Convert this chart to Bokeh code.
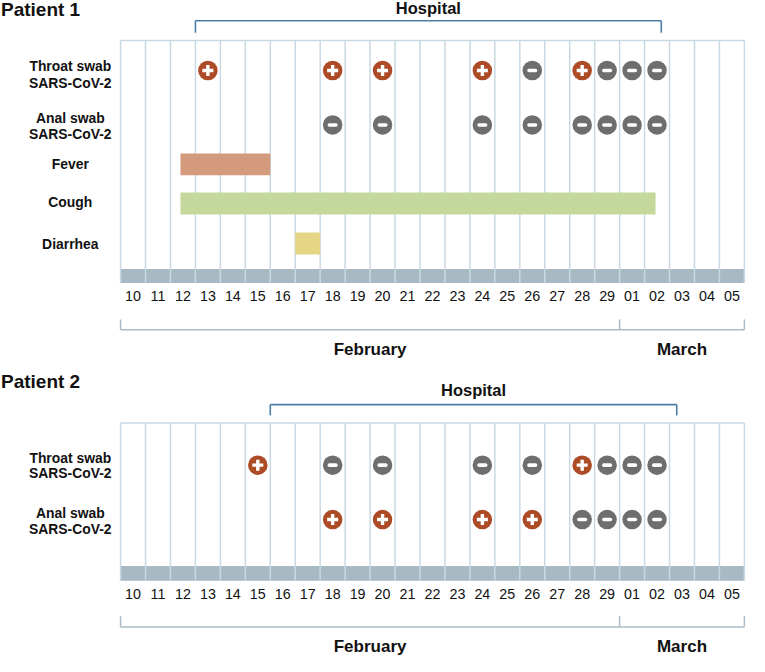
from bokeh.plotting import figure
from bokeh.models import Range1d
from bokeh.core.properties import value
from bokeh.embed import file_html
from bokeh.resources import INLINE

# ---------------- data ----------------
days = ["10", "11", "12", "13", "14", "15", "16", "17", "18", "19",
        "20", "21", "22", "23", "24", "25", "26", "27", "28", "29",
        "01", "02", "03", "04", "05"]
months = ["February", "March"]
month_first_day = ["10", "01"]

p1_throat_days = ["13", "18", "20", "24", "26", "28", "29", "01", "02"]
p1_throat_result = ["+", "+", "+", "+", "-", "+", "-", "-", "-"]
p1_anal_days = ["18", "20", "24", "26", "28", "29", "01", "02"]
p1_anal_result = ["-", "-", "-", "-", "-", "-", "-", "-"]

p2_throat_days = ["15", "18", "20", "24", "26", "28", "29", "01", "02"]
p2_throat_result = ["+", "-", "-", "-", "-", "+", "-", "-", "-"]
p2_anal_days = ["18", "20", "24", "26", "28", "29", "01", "02"]
p2_anal_result = ["+", "+", "+", "+", "-", "-", "-", "-"]

# symptoms of patient 1, in days after 10 February (start, end)
symptoms = ["Fever", "Cough", "Diarrhea"]
symptom_start = [2.4, 2.4, 7.0]
symptom_end = [6.0, 21.44, 8.0]
symptom_colors = ["#d49a7e", "#c5d89c", "#e5d585"]

# hospital stay, in days after 10 February (admission, discharge)
hospital_p1 = [3.0, 21.67]
hospital_p2 = [6.0, 22.29]

# ---------------- layout (reference pixel units) ----------------
W, H = 749, 656
REF_H = 672.0
S = H / REF_H
PX0, COL = 123.0, 25.56


def dx(ref_x):
    return (ref_x - PX0) / COL


FONT = value("Liberation Sans")
POS_C, NEG_C = "#ac4b26", "#6e6e6e"
GRID_C, BAND_C = "#c9d9e3", "#a7b9c3"
HOSP_C, MON_C = "#4a7eaa", "#a9bcc8"

P1 = dict(title="Patient 1", title_y=9.4, hosp_text_y=7.6, hosp_y=20.7, hosp_tick=33.0,
          grid_top=41.0, band_top=275.0, band_bot=289.5, date_y=303.0,
          mbr_y=337.3, mbr_tick=326.7, month_y=357.3)
P2 = dict(title="Patient 2", title_y=390.8, hosp_text_y=399.5, hosp_y=414.0, hosp_tick=425.0,
          grid_top=432.7, band_top=579.3, band_bot=594.3, date_y=608.0,
          mbr_y=641.7, mbr_tick=630.7, month_y=661.7)

p = figure(width=W, height=H, x_range=Range1d(dx(0), dx(W / S)),
           y_range=Range1d(REF_H, 0), output_backend="svg", toolbar_location=None,
           min_border=0, x_axis_type=None, y_axis_type=None, title=None,
           outline_line_color=None, background_fill_color="white",
           border_fill_color="white")
p.grid.visible = False

n = len(days)


def pos(dlist):
    return [days.index(d) + 0.5 for d in dlist]


def draw_panel(P, hospital, rows):
    # band and grid
    p.quad(left=[0], right=[n], top=[P["band_top"]], bottom=[P["band_bot"]],
           fill_color=BAND_C, line_color=None)
    xs = list(range(n + 1))
    p.segment(x0=xs, x1=xs, y0=[P["grid_top"]] * len(xs), y1=[P["band_bot"]] * len(xs),
              line_color=GRID_C, line_width=1.5)
    p.segment(x0=[0], x1=[n], y0=[P["grid_top"]], y1=[P["grid_top"]],
              line_color=GRID_C, line_width=1.5)
    # date labels
    p.text(x=[i + 0.5 for i in range(n)], y=[P["date_y"]] * n, text=days,
           text_font=FONT, text_font_size="14.3px", text_color="#111111",
           text_align="center", text_baseline="middle")
    # month brackets
    bounds = [days.index(d) for d in month_first_day] + [n]
    p.segment(x0=[0], x1=[n], y0=[P["mbr_y"]], y1=[P["mbr_y"]],
              line_color=MON_C, line_width=1.5)
    p.segment(x0=bounds, x1=bounds, y0=[P["mbr_tick"]] * 3, y1=[P["mbr_y"]] * 3,
              line_color=MON_C, line_width=1.5)
    p.text(x=[(bounds[i] + bounds[i + 1]) / 2 for i in range(len(months))],
           y=[P["month_y"]] * len(months), text=months, text_font=FONT,
           text_font_style="bold", text_font_size="17px", text_color="#111111",
           text_align="center", text_baseline="middle")
    # title
    p.text(x=[dx(0.5)], y=[P["title_y"]], text=[P["title"]], text_font=FONT,
           text_font_style="bold", text_font_size="19px", text_color="#111111",
           text_align="left", text_baseline="middle")
    # hospital bracket
    h0, h1 = hospital
    p.segment(x0=[h0], x1=[h1], y0=[P["hosp_y"]], y1=[P["hosp_y"]],
              line_color=HOSP_C, line_width=1.6)
    p.segment(x0=[h0, h1], x1=[h0, h1], y0=[P["hosp_y"]] * 2, y1=[P["hosp_tick"]] * 2,
              line_color=HOSP_C, line_width=1.6)
    p.text(x=[(h0 + h1) / 2], y=[P["hosp_text_y"]], text=["Hospital"], text_font=FONT,
           text_font_style="bold", text_font_size="16.5px", text_color="#111111",
           text_align="center", text_baseline="middle")
    # swab rows
    for label_lines, label_ys, row_y, dlist, res in rows:
        p.text(x=[dx(71.5)] * len(label_lines), y=label_ys, text=label_lines,
               text_font=FONT, text_font_style="bold", text_font_size="13.9px",
               text_color="#111111", text_align="center", text_baseline="middle")
        if dlist is None:
            continue
        xs_ = pos(dlist)
        cols = [POS_C if r == "+" else NEG_C for r in res]
        p.scatter(x=xs_, y=[row_y] * len(xs_), marker="circle", size=19.5,
                  fill_color=cols, line_color=None)
        px = [x for x, r in zip(xs_, res) if r == "+"]
        nx = [x for x, r in zip(xs_, res) if r == "-"]
        if px:
            p.scatter(x=px, y=[row_y] * len(px), marker="cross", size=11,
                      line_color="white", line_width=3.4)
        if nx:
            p.scatter(x=nx, y=[row_y] * len(nx), marker="dash", size=6.5,
                      line_color="white", line_width=3.6, line_cap="round")


draw_panel(P1, hospital_p1, [
    (["Throat swab", "SARS-CoV-2"], [67.5, 84.2], 71.7, p1_throat_days, p1_throat_result),
    (["Anal swab", "SARS-CoV-2"], [120.0, 136.6], 127.5, p1_anal_days, p1_anal_result),
])
# symptom bars (patient 1)
sym_y = [167.9, 207.9, 248.9]
p.quad(left=symptom_start, right=symptom_end,
       top=[y - 11.2 for y in sym_y], bottom=[y + 11.2 for y in sym_y],
       fill_color=symptom_colors, line_color=None)
p.text(x=[dx(71.5)] * 3, y=[167.5, 206.5, 249.0], text=symptoms, text_font=FONT,
       text_font_style="bold", text_font_size="13.9px", text_color="#111111",
       text_align="center", text_baseline="middle")

draw_panel(P2, hospital_p2, [
    (["Throat swab", "SARS-CoV-2"], [468.2, 483.8], 476.0, p2_throat_days, p2_throat_result),
    (["Anal swab", "SARS-CoV-2"], [525.3, 541.0], 531.7, p2_anal_days, p2_anal_result),
])

open("out.html", "w").write(file_html(p, INLINE))
